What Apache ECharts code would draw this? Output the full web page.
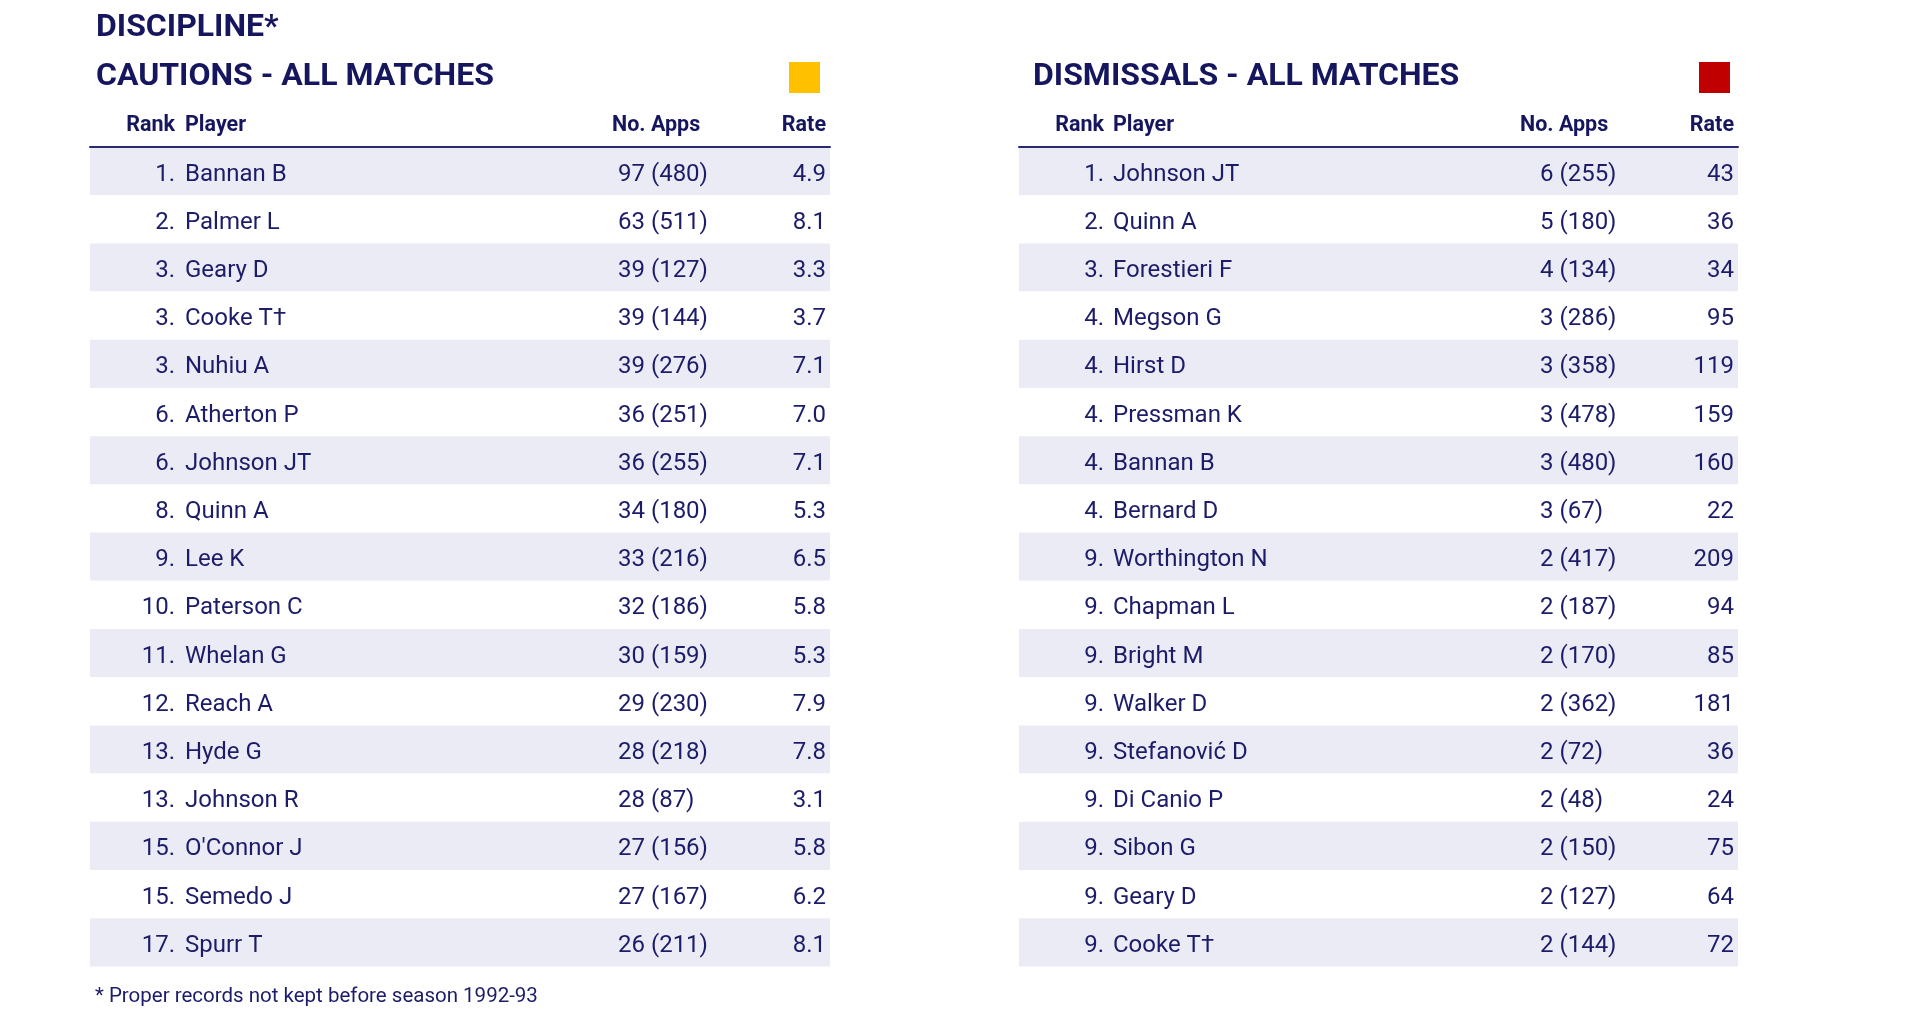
<!DOCTYPE html>
<html>
<head>
<meta charset="utf-8">
<script src="https://cdn.jsdelivr.net/npm/echarts@6/dist/echarts.min.js"></script>
<style>
html,body{margin:0;padding:0;background:#fff;}
#chart{width:1919px;height:1017px;}
</style>
</head>
<body>
<div id="chart"></div>
<script>
// ---------- DATA ----------
const cautionRanks = ['1.','2.','3.','3.','3.','6.','6.','8.','9.','10.','11.','12.','13.','13.','15.','15.','17.'];
const cautionPlayers = ['Bannan B','Palmer L','Geary D','Cooke T†','Nuhiu A','Atherton P','Johnson JT','Quinn A','Lee K','Paterson C','Whelan G','Reach A','Hyde G','Johnson R',"O'Connor J",'Semedo J','Spurr T'];
const cautionNos = [97,63,39,39,39,36,36,34,33,32,30,29,28,28,27,27,26];
const cautionApps = [480,511,127,144,276,251,255,180,216,186,159,230,218,87,156,167,211];
const cautionRates = [4.9,8.1,3.3,3.7,7.1,7.0,7.1,5.3,6.5,5.8,5.3,7.9,7.8,3.1,5.8,6.2,8.1];

const dismissalRanks = ['1.','2.','3.','4.','4.','4.','4.','4.','9.','9.','9.','9.','9.','9.','9.','9.','9.'];
const dismissalPlayers = ['Johnson JT','Quinn A','Forestieri F','Megson G','Hirst D','Pressman K','Bannan B','Bernard D','Worthington N','Chapman L','Bright M','Walker D','Stefanović D','Di Canio P','Sibon G','Geary D','Cooke T†'];
const dismissalNos = [6,5,4,3,3,3,3,3,2,2,2,2,2,2,2,2,2];
const dismissalApps = [255,180,134,286,358,478,480,67,417,187,170,362,72,48,150,127,144];
const dismissalRates = [43,36,34,95,119,159,160,22,209,94,85,181,36,24,75,64,72];

const headerLabels = ['Rank','Player','No. Apps','Rate'];
const titleMain = 'DISCIPLINE*';
const titleLeft = 'CAUTIONS - ALL MATCHES';
const titleRight = 'DISMISSALS - ALL MATCHES';
const footnote = '* Proper records not kept before season 1992-93';

// ---------- STYLE / LAYOUT ----------
const FONT = 'Roboto, "Noto Sans", sans-serif';
const NAVY = '#16165f';
const TEXT = '#1c1c68';
const BAND = '#ebebf6';
const ROW_TOP = 147, ROW_H = 48.2, N = 17;
const TEXT_DY = 3.5;

const L = {left: 90, width: 740, cols: {rank: 85, player: 95, apps: 528, rate: 736}, hdrApps: 522};
const R = {left: 1019, width: 719, cols: {rank: 85, player: 94, apps: 521, rate: 715}, hdrApps: 501};

function renderer(cols, ranks, players, nos, apps, rates, rateFmt) {
  return function (params, api) {
    const i = params.dataIndex;
    const y = api.coord([0, i])[1] + TEXT_DY;
    const font = '24px ' + FONT;
    const mk = (xv, text, align) => ({
      type: 'text',
      style: {
        x: api.coord([xv, i])[0], y: y, text: text, font: font, fill: TEXT,
        textAlign: align, textVerticalAlign: 'middle'
      }
    });
    return {
      type: 'group',
      children: [
        mk(cols.rank, ranks[i], 'right'),
        mk(cols.player, players[i], 'left'),
        mk(cols.apps, nos[i] + ' (' + apps[i] + ')', 'left'),
        mk(cols.rate, rateFmt(rates[i]), 'right')
      ]
    };
  };
}

function grid(t) {
  return {left: t.left, top: ROW_TOP, width: t.width, height: ROW_H * N};
}
function xAx(t, gi) {
  return {
    type: 'value', gridIndex: gi, min: 0, max: t.width, position: 'top',
    axisLine: {show: true, lineStyle: {color: '#2a2a6e', width: 2}},
    axisTick: {show: false}, axisLabel: {show: false}, splitLine: {show: false}
  };
}
function yAx(players, gi) {
  return {
    type: 'category', gridIndex: gi, inverse: true, data: players.map((p, i) => i),
    axisLine: {show: false}, axisTick: {show: false}, axisLabel: {show: false},
    splitLine: {show: false},
    splitArea: {show: true, areaStyle: {color: [BAND, '#ffffff']}}
  };
}

function headerGraphics(t) {
  const y = 126;
  const f = 'bold 21.5px ' + FONT;
  const xs = [t.left + t.cols.rank, t.left + t.cols.player, t.left + t.hdrApps, t.left + t.cols.rate];
  const al = ['right', 'left', 'left', 'right'];
  return headerLabels.map((h, k) => ({
    type: 'text', x: xs[k], y: y,
    style: {text: h, font: f, fill: NAVY, textAlign: al[k], textVerticalAlign: 'middle'}
  }));
}

const chart = echarts.init(document.getElementById('chart'), null, {renderer: 'canvas'});
chart.setOption({
  backgroundColor: '#ffffff',
  animation: false,
  grid: [grid(L), grid(R)],
  xAxis: [xAx(L, 0), xAx(R, 1)],
  yAxis: [yAx(cautionPlayers, 0), yAx(dismissalPlayers, 1)],
  series: [
    {
      type: 'custom', xAxisIndex: 0, yAxisIndex: 0,
      data: cautionPlayers.map((p, i) => [0, i]),
      renderItem: renderer(L.cols, cautionRanks, cautionPlayers, cautionNos, cautionApps, cautionRates, v => v.toFixed(1))
    },
    {
      type: 'custom', xAxisIndex: 1, yAxisIndex: 1,
      data: dismissalPlayers.map((p, i) => [0, i]),
      renderItem: renderer(R.cols, dismissalRanks, dismissalPlayers, dismissalNos, dismissalApps, dismissalRates, v => String(v))
    }
  ],
  graphic: [
    {type: 'text', x: 96, y: 28, style: {text: titleMain, font: 'bold 32px ' + FONT, fill: NAVY, textVerticalAlign: 'middle'}},
    {type: 'text', x: 96, y: 77, style: {text: titleLeft, font: 'bold 32px ' + FONT, fill: NAVY, textVerticalAlign: 'middle'}},
    {type: 'text', x: 1033, y: 77, style: {text: titleRight, font: 'bold 32px ' + FONT, fill: NAVY, textVerticalAlign: 'middle'}},
    {type: 'rect', shape: {x: 789, y: 62, width: 31, height: 31}, style: {fill: '#ffc000'}},
    {type: 'rect', shape: {x: 1699, y: 62, width: 31, height: 31}, style: {fill: '#c00000'}},
    ...headerGraphics(L),
    ...headerGraphics(R),
    {type: 'text', x: 95, y: 997, style: {text: footnote, font: '20.5px ' + FONT, fill: TEXT, textVerticalAlign: 'middle'}}
  ]
});
</script>
</body>
</html>
